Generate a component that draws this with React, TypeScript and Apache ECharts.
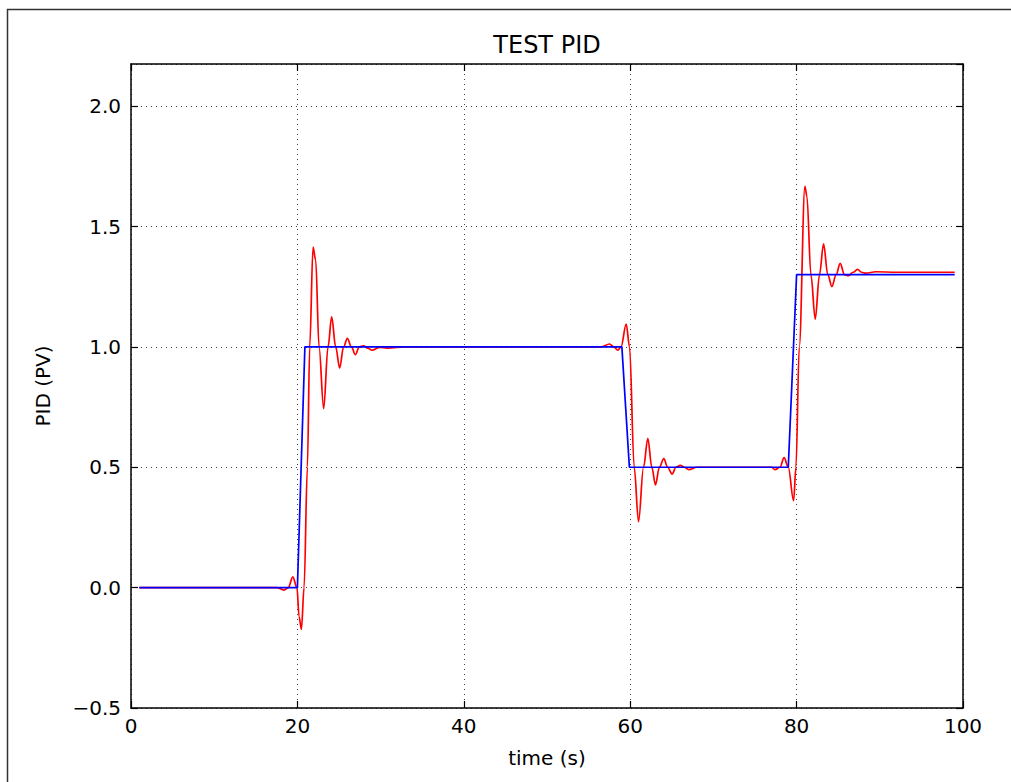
import React, { useEffect, useRef } from "react";
import * as echarts from "echarts";

// Process value (red) sample times and values
const pvTime = [
  1, 17.5, 18.4, 18.9, 19.45, 19.95, 20.2, 20.48, 20.8, 21.2, 21.48, 21.88, 22.2, 22.6, 23.16, 23.68,
  24.12, 24.6, 25.08, 25.55, 26.0, 26.5, 26.96, 27.45, 27.96, 28.45, 28.96, 29.9, 30.8, 33, 40, 50, 56.5,
  57.52, 58.0, 58.52, 58.9, 59.52, 59.92, 60.48, 61.0, 61.6, 62.12, 62.6, 63.04, 63.5, 64.04, 64.5,
  65.04, 65.5, 66.04, 66.5, 67.04, 68, 72, 77, 77.4, 78.0, 78.5, 79.0, 79.64, 79.92, 80.32, 81.0,
  81.24, 81.72, 82.24, 82.75, 83.24, 83.75, 84.24, 84.75, 85.24, 85.75, 86.24, 86.8, 87.32, 87.8,
  88.32, 89.5, 92, 99,
];
const pvValue = [
  0, 0, -0.01, 0, 0.045, 0, -0.12, -0.174, 0, 0.5, 1.0, 1.414, 1.36, 1.0, 0.743, 1.0,
  1.125, 1.0, 0.912, 1.0, 1.035, 1.0, 0.968, 1.0, 1.004, 0.995, 0.986, 0.998, 0.995, 1.0, 1.0, 1.0, 1.0,
  1.012, 1.0, 0.986, 1.0, 1.095, 1.0, 0.5, 0.274, 0.5, 0.62, 0.5, 0.427, 0.5, 0.536, 0.5,
  0.472, 0.5, 0.508, 0.5, 0.49, 0.5, 0.5, 0.5, 0.49, 0.5, 0.54, 0.5, 0.361, 0.5, 1.0, 1.667,
  1.625, 1.3, 1.115, 1.3, 1.428, 1.3, 1.25, 1.3, 1.347, 1.3, 1.296, 1.31, 1.322, 1.31,
  1.306, 1.312, 1.31, 1.31,
];

// Set point (blue)
const spTime = [1, 20.0, 20.9, 59.0, 59.9, 79.0, 80.0, 99];
const spValue = [0, 0, 1.0, 1.0, 0.5, 0.5, 1.3, 1.3];

const xTicks = { min: 0, max: 100, interval: 20 };
const yTicks = { min: -0.5, max: 2.175, interval: 0.5 };

const titleText = "TEST PID";
const xLabel = "time (s)";
const yLabel = "PID (PV)";

const FONT = "DejaVu Sans";

export default function App() {
  const ref = useRef<HTMLDivElement>(null);

  useEffect(() => {
    if (!ref.current) return;
    const chart = echarts.init(ref.current, null, { renderer: "svg" });

    const gridLeft = 131;
    const gridTop = 64;
    const gridW = 832;
    const gridH = 644;

    const tickCommon = {
      show: true,
      inside: true,
      length: 7,
      lineStyle: { color: "#000", width: 1.2 },
    };
    const lineCommon = {
      show: true,
      onZero: false,
      lineStyle: { color: "#000", width: 1.5 },
    };
    const splitCommon = {
      show: true,
      lineStyle: { color: "#000", width: 1, type: [1, 4] as any, opacity: 0.75 },
    };

    const option: any = {
      animation: false,
      backgroundColor: "#fff",
      grid: { left: gridLeft, top: gridTop, width: gridW, height: gridH },
      xAxis: [
        {
          type: "value",
          position: "bottom",
          ...xTicks,
          axisLine: lineCommon,
          axisTick: tickCommon,
          splitLine: splitCommon,
          axisLabel: { color: "#000", fontSize: 20, fontFamily: FONT, margin: 8 },
          name: xLabel,
          nameLocation: "middle",
          nameGap: 40,
          nameTextStyle: { color: "#000", fontSize: 20, fontFamily: FONT },
        },
        {
          type: "value",
          position: "top",
          ...xTicks,
          axisLine: lineCommon,
          axisTick: tickCommon,
          splitLine: { show: false },
          axisLabel: { show: false },
        },
      ],
      yAxis: [
        {
          type: "value",
          position: "left",
          ...yTicks,
          axisLine: lineCommon,
          axisTick: tickCommon,
          splitLine: splitCommon,
          axisLabel: {
            color: "#000",
            fontSize: 20,
            fontFamily: FONT,
            margin: 10,
            showMaxLabel: false,
            formatter: (v: number) => {
              if (Math.abs(v - 2.175) < 1e-6) return "";
              const s = Math.abs(v).toFixed(1);
              return v < 0 ? "\u2212" + s : s;
            },
          },
          name: yLabel,
          nameLocation: "middle",
          nameGap: 78,
          nameTextStyle: { color: "#000", fontSize: 20, fontFamily: FONT },
        },
        {
          type: "value",
          position: "right",
          ...yTicks,
          axisLine: lineCommon,
          axisTick: tickCommon,
          splitLine: { show: false },
          axisLabel: { show: false },
        },
      ],
      graphic: [
        {
          type: "polyline",
          shape: { points: [[7.5, 782], [7.5, 9.5], [1011, 9.5]] },
          style: { stroke: "#333", lineWidth: 1.5, fill: "none" },
          silent: true,
        },
        {
          type: "text",
          x: gridLeft + gridW / 2,
          y: 45,
          style: {
            text: titleText,
            fill: "#000",
            font: `24px '${FONT}'`,
            textAlign: "center",
            textVerticalAlign: "middle",
          },
        },
      ],
      series: [
        {
          type: "line",
          xAxisIndex: 0,
          yAxisIndex: 0,
          data: pvTime.map((t, i) => [t, pvValue[i]]),
          showSymbol: false,
          smooth: 0.35,
          smoothMonotone: "x",
          lineStyle: { color: "#ff0000", width: 1.7 },
          itemStyle: { color: "#ff0000" },
          z: 2,
        },
        {
          type: "line",
          xAxisIndex: 0,
          yAxisIndex: 0,
          data: spTime.map((t, i) => [t, spValue[i]]),
          showSymbol: false,
          lineStyle: { color: "#0000ff", width: 1.7 },
          itemStyle: { color: "#0000ff" },
          z: 3,
        },
      ],
    };

    chart.setOption(option);
    return () => chart.dispose();
  }, []);

  return (
    <div
      ref={ref}
      style={{ position: "fixed", left: 0, top: 0, width: 1011, height: 782, background: "#fff" }}
    />
  );
}
